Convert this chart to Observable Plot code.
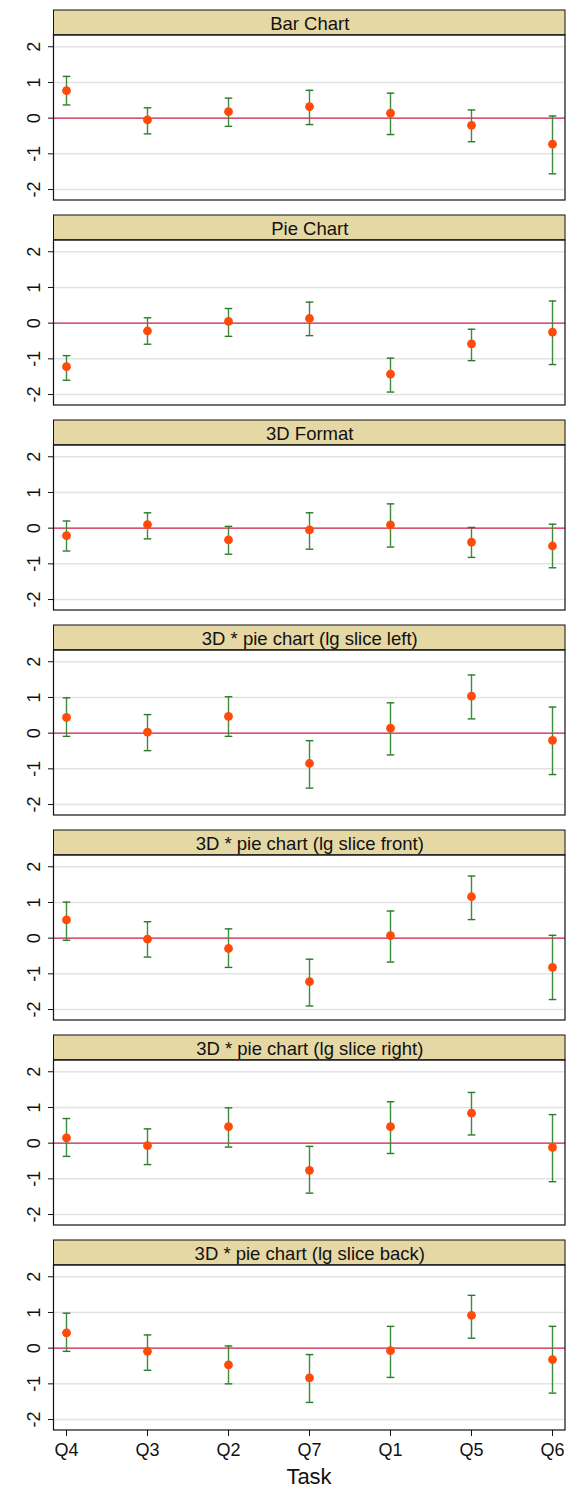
<!DOCTYPE html>
<html>
<head>
<meta charset="utf-8">
<script src="https://cdn.jsdelivr.net/npm/d3@7"></script>
<script src="https://cdn.jsdelivr.net/npm/@observablehq/plot@0.6"></script>
<style>
  html, body { margin: 0; padding: 0; background: #fff; }
  #wrap { width: 566px; font-family: Arial, "Liberation Sans", sans-serif; color: #111; }
  #xlabel { width: 512px; margin-left: 53px; height: 30px; line-height: 30px; text-align: center; font-size: 22px; }
  svg [aria-label="y-axis tick"], svg [aria-label="x-axis tick"] { stroke: #555; }
  svg [aria-label="y-axis"] .tick line, svg [aria-label="x-axis"] .tick line { stroke: #555; }
  svg [aria-label="y-axis"] .domain, svg [aria-label="x-axis"] .domain { display: none; }
</style>
</head>
<body>
<div id="wrap"></div>
<script>
// Tasks along the x axis, in display order
const tasks = ["Q4", "Q3", "Q2", "Q7", "Q1", "Q5", "Q6"];

// One facet per chart format
const panels = [
  "Bar Chart",
  "Pie Chart",
  "3D Format",
  "3D * pie chart (lg slice left)",
  "3D * pie chart (lg slice front)",
  "3D * pie chart (lg slice right)",
  "3D * pie chart (lg slice back)"
];

// Point estimates (rows follow panels, columns follow tasks)
const estimate = [
  [0.77, -0.05, 0.18, 0.32, 0.14, -0.20, -0.73],
  [-1.22, -0.22, 0.05, 0.13, -1.43, -0.58, -0.25],
  [-0.21, 0.10, -0.33, -0.05, 0.09, -0.39, -0.50],
  [0.44, 0.03, 0.47, -0.85, 0.14, 1.04, -0.20],
  [0.51, -0.03, -0.29, -1.22, 0.07, 1.16, -0.82],
  [0.15, -0.07, 0.46, -0.76, 0.46, 0.84, -0.12],
  [0.43, -0.09, -0.47, -0.83, -0.07, 0.92, -0.32]
];

// Lower confidence bounds
const lower = [
  [0.37, -0.44, -0.23, -0.18, -0.46, -0.66, -1.56],
  [-1.60, -0.59, -0.37, -0.35, -1.93, -1.05, -1.16],
  [-0.64, -0.30, -0.73, -0.59, -0.53, -0.82, -1.11],
  [-0.09, -0.49, -0.09, -1.54, -0.61, 0.40, -1.16],
  [-0.06, -0.53, -0.82, -1.90, -0.67, 0.52, -1.72],
  [-0.37, -0.60, -0.11, -1.40, -0.29, 0.23, -1.08],
  [-0.09, -0.62, -1.00, -1.52, -0.82, 0.28, -1.26]
];

// Upper confidence bounds
const upper = [
  [1.17, 0.29, 0.56, 0.78, 0.70, 0.23, 0.06],
  [-0.91, 0.15, 0.41, 0.59, -0.98, -0.17, 0.62],
  [0.20, 0.43, 0.05, 0.43, 0.68, 0.02, 0.11],
  [0.99, 0.52, 1.02, -0.21, 0.85, 1.63, 0.73],
  [1.01, 0.46, 0.26, -0.59, 0.76, 1.74, 0.08],
  [0.69, 0.40, 0.99, -0.09, 1.16, 1.42, 0.80],
  [0.98, 0.37, 0.06, -0.18, 0.61, 1.48, 0.61]
];

const yTicks = [-2, -1, 0, 1, 2];
const gridTicks = [-2, -1, 1, 2];

// Long-format table for the marks
const rows = [];
panels.forEach((p, i) => tasks.forEach((t, j) => {
  rows.push({panel: p, task: t, est: estimate[i][j], lo: lower[i][j], hi: upper[i][j]});
}));

// Horizontal cap symbol for the interval ends (half-width equals r)
const cap = {
  draw(context, size) {
    const w = Math.sqrt(size / Math.PI);
    context.moveTo(-w, 0);
    context.lineTo(w, 0);
  }
};

// Vertical layout of each facet: plot region, then the title strip on top
const yMin = -2.307, yMax = 2.318, stripTop = 3.016;
const stripMid = (yMax + stripTop) / 2;

const chart = Plot.plot({
  width: 566,
  height: 1462,
  marginTop: 9,
  marginBottom: 31,
  marginLeft: 53.5,
  marginRight: 1,
  style: {fontFamily: 'Arial, "Liberation Sans", sans-serif', fontSize: "18px", color: "#111", background: "#fff"},
  fy: {domain: panels, axis: null, paddingInner: 0.071, paddingOuter: 0},
  x: {domain: tasks, type: "point", padding: 0.13, label: null, tickSize: 6, tickPadding: 7},
  y: {domain: [yMin, stripTop], ticks: yTicks, tickSize: 5.5, tickFormat: () => "", label: null},
  marks: [
    // title strip
    Plot.rect(panels, {fy: d => d, y1: () => yMax, y2: () => stripTop, fill: "#e5d8a5", stroke: "#111", strokeWidth: 1}),
    Plot.text(panels, {fy: d => d, y: () => stripMid, text: d => d, fontSize: 18.5, fill: "#111", lineAnchor: "middle", dy: 1}),
    // gridlines and reference line
    Plot.ruleY(gridTicks, {stroke: "#e3e3e3", strokeWidth: 1.5}),
    Plot.ruleY([0], {stroke: "#cc1a45", strokeWidth: 1.3}),
    // plot region border
    Plot.rect([0], {y1: () => yMin, y2: () => yMax, fill: "none", stroke: "#111", strokeWidth: 1.2}),
    // rotated y tick labels
    Plot.text(yTicks, {y: d => d, text: d => String(d), frameAnchor: "left", dx: -20, rotate: -90, textAnchor: "middle", lineAnchor: "middle", fontSize: 18, fill: "#111"}),
    // confidence intervals with caps
    Plot.ruleX(rows, {fy: "panel", x: "task", y1: "lo", y2: "hi", stroke: "#3d8c3d", strokeWidth: 1.4}),
    Plot.dot(rows, {fy: "panel", x: "task", y: "lo", symbol: cap, r: 3.8, stroke: "#2a7a2a", strokeWidth: 1.4, fill: "none"}),
    Plot.dot(rows, {fy: "panel", x: "task", y: "hi", symbol: cap, r: 3.8, stroke: "#2a7a2a", strokeWidth: 1.4, fill: "none"}),
    // estimates
    Plot.dot(rows, {fy: "panel", x: "task", y: "est", r: 4.4, fill: "#ff4a0a", stroke: "none"})
  ]
});

const wrap = document.getElementById("wrap");
wrap.appendChild(chart);
const xl = document.createElement("div");
xl.id = "xlabel";
xl.textContent = "Task";
wrap.appendChild(xl);
</script>
</body>
</html>
